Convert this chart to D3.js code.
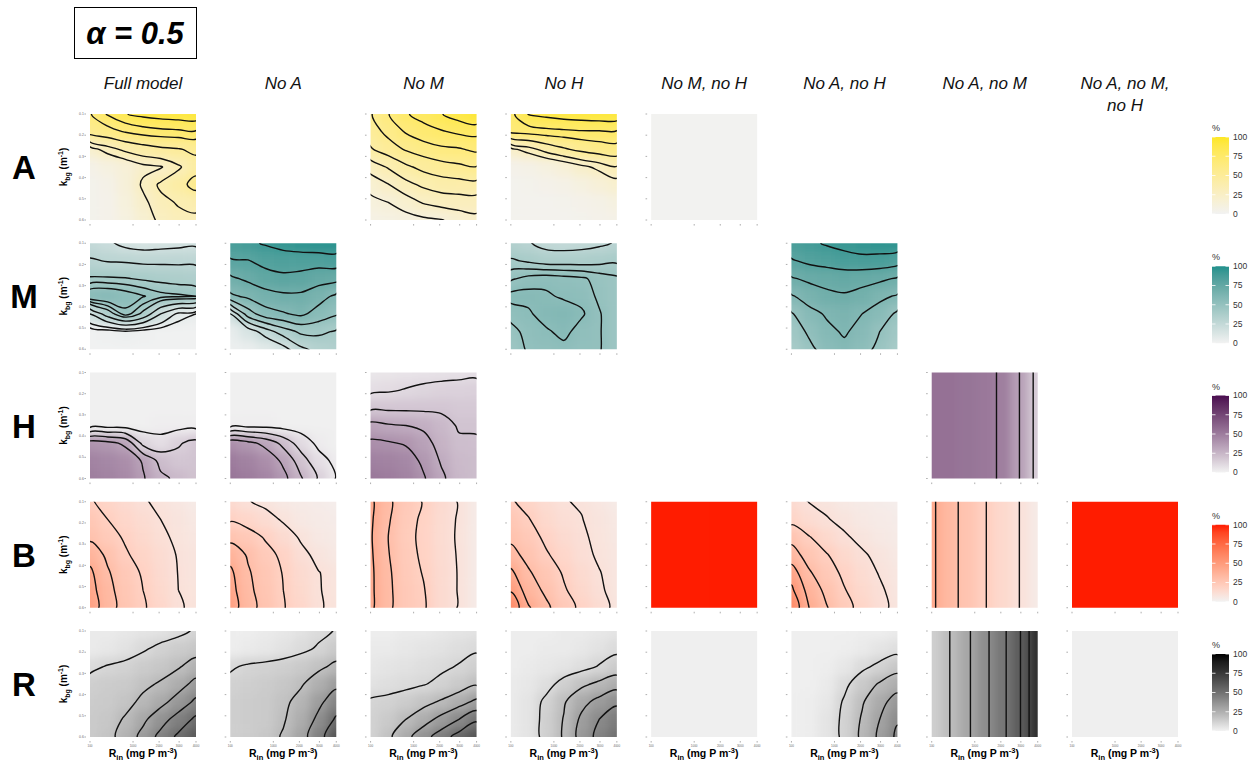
<!DOCTYPE html>
<html><head><meta charset="utf-8">
<script src="https://cdn.jsdelivr.net/npm/d3@7"></script>
<style>
body{margin:0;background:#fff;}
text{font-family:"Liberation Sans",Arial,sans-serif;}
</style></head>
<body><svg id="chart" width="1255" height="767"></svg>
<script>
// ---------- categories ----------
const colLabelLines = [["Full model"],["No A"],["No M"],["No H"],["No M, no H"],["No A, no H"],["No A, no M"],["No A, no M,","no H"]];
const rowKeys = ["A","M","H","B","R"];
const rowHigh = ["#fde725","#21908c","#4a0d4f","#ff1a00","#000000"];
const lowColor = "#f2f2f2";
const rinTicks = [100,1000,2000,3000,4000];
const kbgTicks = [0.1,0.2,0.3,0.4,0.5,0.6];
const legendTicks = [0,25,50,75,100];

// ---------- panel value grids (% ; rows: k_bg 0.1 -> 0.6, cols: R_in 100 -> 4000) ----------
const A_full = [
 [64,76,84.5,88,90,91,92],[56,60,66,70,72,73,74],[20,30,38,43,47,49,53],
 [6,10,15,22,24,33,44],[4,6,14,27,37,44,56],[4,5,12,22,32,36,38],[4,5,10,18,28,32,33]];
const A_noM = [
 [54,64.5,74,79,84.5,90,95],[50,58,66,71,74,77,78],[44,50,56,60,63,64,67],
 [29,36,43,48,51,53,54.5],[19,24.5,32,37,40,41,42],[12,15,20,26,29,30,30],[8,9,11,13,14.5,19,22]];
const A_noH = [
 [72,85.5,88,90,91,92,92],[68,70,72,73,74,74,74],[22,30,40,48,54,58,60],
 [5,7,10,15,22,28,34],[3,4,5,7,10,15,20],[3,3,3,4,5,7,10],[3,3,3,3,4,5,6]];
const A_noMnoH = [[1,1],[1,1]];

const M_full = [
 [25,22,17,15,16,17,18],[31,29.5,29,28,28,28,28],[41,41,40.5,39,38,37,36],
 [56,57,54,50.5,47,46,45],[20,35,48,38,20,8,5],[1,2,4,2,1,1,1],[1,1,1,1,1,1,1]];
const M_noA = [
 [86,88,91,94,96,97,97],[79,79.5,83,84,84,84,85],[68,72,76,78,77,74,73],
 [58,62,66,68,68,64,58],[20,45,56,59,62,56,51],[6,14,25,35,42,42,39],[3,5,9,16,28,33,35]];
const M_noH = [
 [34,31,26,25,26,28,31],[41,39,37,37,37,38,39],[49,52,53,52,51,48,46],
 [57,57,56,54,53,49,46],[52,54,58,59,56,50.5,46],[48,52,54,57,52,50.5,46],[46,51,52,53,51,50.5,46]];
const M_noAnoH = [
 [86,88,91,93,95,96,96],[79,82,84,86,87,86,84],[69,72,73,74,73,72,69],
 [59,64,68,69,67,62,59],[49,57,61,63,60,56,48],[43,52,58,61,57,50,43],[40,47,55,58,54,47,40]];

const H_full = [
 [1,1,1,1,1,1,1],[1,1,1,1,1,1,1],[1,1,1,1,1,1,1],
 [1,1,1,1,2,2,2],[40,38,33,12,8,14,18],[47,45,42,34,22,18,19],[49,47,44,36,27,23,20]];
const H_noA = [
 [1,1,1,1,1,1,1],[1,1,1,1,1,1,1],[1,1,1,1,1,1,1],
 [2,2,2,1,1,1,1],[42,38,32,22,10,3,1],[50,47,42,33,20,8,3],[53,50,46,38,26,14,4.5]];
const H_noM = [
 [5,5.5,6,6.5,7,7.5,8],[8,9,10.5,12,13,13.5,14],[18,18,18,18,18,17,17],
 [33,31,30,28,24,19,19],[42,41,39,34,26,21.5,21],[48,47,45,38,29,23,22],[52,50,47,41,32,24,22]];
const H_noAnoM = [[55,55,54,52,49,34.5,15],[55,55,54,52,49,34.5,15]];

const B_full = [
 [21,17,14,10.5,9,7,5],[25,20,16,13,10,8,6],[28,23,19,15,11.5,8.5,7],
 [36,28,21,17,13,9.5,8],[42,31,24,19,14,9.8,8],[44,33,25,20,15,10,8.5],[46,34,26,21,16,10.5,9]];
const B_noA = [
 [14,10.5,8,6,5,4,3],[19,16,13,9,6,5,4],[27,24,19,14,9,6,5],
 [36,29,23,18,12,8,6],[42,31,25,19.5,14,10.2,8],[44,32,26,20,15,10.3,8.5],[46,33,27,20.5,16,10.4,9]];
const B_noM = [
 [42,32,24,19.5,14,9.5,5],[41.5,31,23,18.5,13.5,9.2,5],[41,30,22.5,18,13.2,9,5],
 [41.5,30.5,23,18.5,13.5,9.3,5],[42,31.5,23.5,19.5,14,9.5,5],[42,32,24,20.5,14,9.5,5],[42,32,24,21,14,9.5,5]];
const B_noH = [
 [21,17,13,10.3,9.5,7,5],[25,20.5,15,12,10.2,8,6],[28,24,18,14,11,8.5,6.5],
 [33,27,21,16,12,9,7],[42,31,25,19,14,10.3,7.5],[49,35,28,21,15.5,11,7.8],[58,41,32,24,18,13,8]];
const B_noMnoH = [[100,100],[100,100]];
const B_noAnoH = [
 [14,9.8,8,6,5,4,3],[17,13,10.5,8,6,5,4],[27,20.5,15,11,8,6,5],
 [34,26,20.5,15,11,8,6],[45,31,24,18,13,9.5,7],[52,36,27.5,20.5,15,11,7.5],[58,40,30.5,23,17,12,8]];
const B_noAnoM = [[42,33,27,20.5,15,9.8,5],[42,33,27,20.5,15,9.8,5]];
const B_noAnoMnoH = [[100,100],[100,100]];

const R_full = [
 [3,3,4,5,6,8,11],[3,4,6,9,12,14,16],[8,10.5,12,14,16,19,24],
 [13,14,15,18,21,26,33],[14,15,17,22,27,34,42],[15,16,21,28,36,44,52],[15,17,24,33,43,52,60]];
const R_noA = [
 [2,2,3,4,6,8,10.5],[2,3,4,6,8,11,15],[9,11,12,13,15,18,22],
 [12,13,14,16,19,25,32],[13,14,15,18,23,32,42],[13,14,15,19,26,38,52],[13,14,16,21,29.5,44,62]];
const R_noM = [
 [2,2,3,3,4,5,6],[3,3,4,5,6,7.5,9],[4,5,6,7,8.5,10.5,13],
 [6,7,8,9.5,12,15,19],[11,12,14,17,21,26,32],[12,15,20,26,33,40,48],[12,18,27,36,45,54,62]];
const R_noH = [
 [2,2,2,3,3,4,5],[2,2,3,3,4,6,8],[2,3,4,5,7,10.5,14],
 [3,4,7,13,18,22,26],[3,5,12,19,27,33,38],[3,5,13,20.5,32,40,46],[3,5,13,21,34,43,50]];
const R_noMnoH = [[1,1],[1,1]];
const R_noAnoH = [
 [1,1,1,1,2,2,3],[1,1,1,2,3,5,7],[1,1,2,4,8,12,16],
 [1,1,3,8,15,21,26],[1,2,4,11,19,27,34],[1,2,5,12,21,30,39],[1,2,5,12,22,32,42]];
const R_noAnoM = [[13,19.8,28.2,37.6,47.4,59.5,80],[13,19.8,28.2,37.6,47.4,59.5,80]];
const R_noAnoMnoH = [[1,1],[1,1]];

// contour levels per panel
const panels = [
 {row:0,col:0,grid:A_full,levels:[25,35,50,65,75,85]},
 {row:0,col:2,grid:A_noM,levels:[15,25,35,45,55,65,75,85]},
 {row:0,col:3,grid:A_noH,levels:[25,35,50,65,75,85]},
 {row:0,col:4,grid:A_noMnoH,levels:[]},
 {row:1,col:0,grid:M_full,levels:[5,10,20,30,40,45,50]},
 {row:1,col:1,grid:M_noA,levels:[20,30,40,50,60,70,80,90]},
 {row:1,col:3,grid:M_noH,levels:[30,40,45,50,55]},
 {row:1,col:5,grid:M_noAnoH,levels:[50,60,70,80,90]},
 {row:2,col:0,grid:H_full,levels:[5,15,25,35]},
 {row:2,col:1,grid:H_noA,levels:[5,15,25,35]},
 {row:2,col:2,grid:H_noM,levels:[10,20,30,40]},
 {row:2,col:6,grid:H_noAnoM,levels:[20,35,50]},
 {row:3,col:0,grid:B_full,levels:[10,20,30,40]},
 {row:3,col:1,grid:B_noA,levels:[10,20,30,40]},
 {row:3,col:2,grid:B_noM,levels:[10,20,30,40]},
 {row:3,col:3,grid:B_noH,levels:[10,20,30,40,50]},
 {row:3,col:4,grid:B_noMnoH,levels:[]},
 {row:3,col:5,grid:B_noAnoH,levels:[10,20,30,40,50]},
 {row:3,col:6,grid:B_noAnoM,levels:[10,20,30,40]},
 {row:3,col:7,grid:B_noAnoMnoH,levels:[]},
 {row:4,col:0,grid:R_full,levels:[10,20,30,40,50]},
 {row:4,col:1,grid:R_noA,levels:[10,20,35,50]},
 {row:4,col:2,grid:R_noM,levels:[10,20,30,40,50]},
 {row:4,col:3,grid:R_noH,levels:[10,20,30,40]},
 {row:4,col:4,grid:R_noMnoH,levels:[]},
 {row:4,col:5,grid:R_noAnoH,levels:[10,20,30,40]},
 {row:4,col:6,grid:R_noAnoM,levels:[20,30,40,50,60,70]},
 {row:4,col:7,grid:R_noAnoMnoH,levels:[]}
];

// ---------- layout ----------
const W = 106, H = 106;
const colScale = d3.scaleLinear().domain([0,7]).range([90,1072]);
const rowScale = d3.scaleLinear().domain([0,4]).range([114,631]);
const svg = d3.select("#chart");
const defs = svg.append("defs");
defs.append("filter").attr("id","soft").append("feGaussianBlur").attr("stdDeviation",5);

const xs = d3.scaleSqrt().domain([100,4000]).range([0,W]);
const ys = d3.scaleLinear().domain([0.1,0.6]).range([0,H]);
const colorFor = r => d3.scaleLinear().domain([0,100]).range([lowColor,rowHigh[r]]).interpolate(d3.interpolateLab);

panels.forEach(p => {
  const x0 = colScale(p.col), y0 = rowScale(p.row);
  const g = svg.append("g").attr("transform",`translate(${x0},${y0})`);
  const grid = p.grid, ny = grid.length, nx = grid[0].length;
  const gx = d3.scaleLinear().domain([0,nx-1]).range([0,W]);
  const gy = d3.scaleLinear().domain([0,ny-1]).range([0,H]);
  const color = colorFor(p.row);
  const clipId = `clip-${p.row}-${p.col}`;
  defs.append("clipPath").attr("id",clipId).append("rect").attr("width",W).attr("height",H);
  const area = g.append("g").attr("clip-path",`url(#${clipId})`);
  const cw = W/(nx-1), ch = H/(ny-1), pad = 26;
  const cells = area.append("g").attr("filter","url(#soft)");
  grid.forEach((r,j) => r.forEach((v,i) => {
    const xa = gx(i)-cw/2-(i===0?pad:0), xb = gx(i)+cw/2+(i===nx-1?pad:0);
    const ya = gy(j)-ch/2-(j===0?pad:0), yb = gy(j)+ch/2+(j===ny-1?pad:0);
    cells.append("rect").attr("x",xa).attr("y",ya).attr("width",xb-xa+0.6).attr("height",yb-ya+0.6).attr("fill",color(v));
  }));
  if (p.levels.length) {
    const cont = d3.contours().size([nx,ny]).thresholds(p.levels)(grid.flat());
    const curve = ny > 2 ? d3.curveCatmullRomClosed.alpha(0.5) : d3.curveLinearClosed;
    const line = d3.line().x(q => gx(q[0]-0.5)).y(q => gy(q[1]-0.5)).curve(curve);
    cont.forEach(c => c.coordinates.forEach(poly => poly.forEach(ring => {
      area.append("path").attr("d",line(ring.slice(0,-1))).attr("fill","none")
        .attr("stroke","#111").attr("stroke-width",1.4).attr("stroke-linejoin","round");
    })));
  }
  // x ticks
  const xg = g.append("g").attr("transform",`translate(0,${H+4})`);
  rinTicks.forEach(t => {
    xg.append("line").attr("x1",xs(t)).attr("x2",xs(t)).attr("y1",0).attr("y2",1.6).attr("stroke","#777").attr("stroke-width",0.6);
    if (p.row === 4) xg.append("text").attr("x",xs(t)).attr("y",6).attr("text-anchor","middle").attr("font-size",3).attr("fill","#666").text(t);
  });
  // y ticks
  const yg = g.append("g").attr("transform","translate(-4,0)");
  kbgTicks.forEach(t => {
    yg.append("line").attr("x1",-1.6).attr("x2",0).attr("y1",ys(t)).attr("y2",ys(t)).attr("stroke","#777").attr("stroke-width",0.6);
    if (p.col === 0) yg.append("text").attr("x",-2.2).attr("y",ys(t)).attr("dy","0.35em").attr("text-anchor","end").attr("font-size",3.4).attr("fill","#666").text(t.toFixed(1));
  });
});

// ---------- title box ----------
svg.append("rect").attr("x",74.5).attr("y",7.5).attr("width",122).attr("height",51).attr("fill","none").attr("stroke","#000").attr("stroke-width",1);
svg.append("text").attr("x",135).attr("y",44).attr("text-anchor","middle").attr("font-size",31).attr("font-weight","bold").attr("font-style","italic").text("α = 0.5");

// ---------- column headers ----------
colLabelLines.forEach((lines,i) => {
  lines.forEach((s,k) => {
    svg.append("text").attr("x",colScale(i)+W/2).attr("y",89+k*22).attr("text-anchor","middle")
      .attr("font-size",17).attr("font-style","italic").attr("fill","#111").text(s);
  });
});

// ---------- row labels, y titles, legends ----------
rowKeys.forEach((k,r) => {
  const y0 = rowScale(r);
  svg.append("text").attr("x",24).attr("y",y0+65).attr("text-anchor","middle").attr("font-size",33).attr("font-weight","bold").text(k);
  const yt = svg.append("text").attr("transform",`translate(67,${y0+H/2}) rotate(-90)`).attr("text-anchor","middle")
    .attr("font-size",10).attr("font-weight","bold");
  yt.append("tspan").text("k");
  yt.append("tspan").attr("font-size",7).attr("dy",2.5).text("bg");
  yt.append("tspan").attr("dy",-2.5).text(" (m");
  yt.append("tspan").attr("font-size",7).attr("dy",-4).text("-1");
  yt.append("tspan").attr("dy",4).text(")");

  // legend
  const gid = `lg-${r}`;
  const grad = defs.append("linearGradient").attr("id",gid).attr("x1",0).attr("x2",0).attr("y1",1).attr("y2",0);
  const col = colorFor(r);
  d3.range(0,101,10).forEach(v => grad.append("stop").attr("offset",v/100).attr("stop-color",col(v)));
  const ly = d3.scaleLinear().domain([0,100]).range([y0+100,y0+23]);
  svg.append("rect").attr("x",1212).attr("y",ly(100)).attr("width",17).attr("height",ly(0)-ly(100)).attr("fill",`url(#${gid})`);
  legendTicks.forEach(t => {
    svg.append("line").attr("x1",1212).attr("x2",1215.5).attr("y1",ly(t)).attr("y2",ly(t)).attr("stroke","#fff").attr("stroke-width",0.8);
    svg.append("line").attr("x1",1225.5).attr("x2",1229).attr("y1",ly(t)).attr("y2",ly(t)).attr("stroke","#fff").attr("stroke-width",0.8);
    svg.append("text").attr("x",1233).attr("y",ly(t)).attr("dy","0.35em").attr("font-size",8.5).attr("fill","#333").text(t);
  });
  svg.append("text").attr("x",1216).attr("y",y0+17).attr("text-anchor","middle").attr("font-size",9).attr("fill","#333").text("%");
});

// ---------- x titles ----------
colLabelLines.forEach((_,i) => {
  const t = svg.append("text").attr("x",colScale(i)+W/2).attr("y",757).attr("text-anchor","middle").attr("font-size",10.5).attr("font-weight","bold");
  t.append("tspan").text("R");
  t.append("tspan").attr("font-size",7.5).attr("dy",2.5).text("in");
  t.append("tspan").attr("dy",-2.5).text(" (mg P m");
  t.append("tspan").attr("font-size",7.5).attr("dy",-4).text("-3");
  t.append("tspan").attr("dy",4).text(")");
});
</script></body></html>
